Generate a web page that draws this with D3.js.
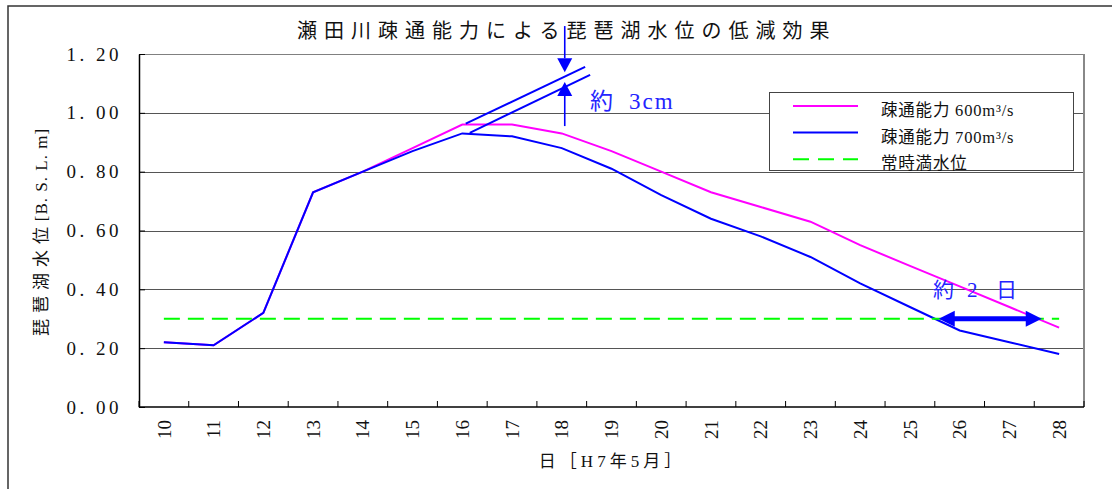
<!DOCTYPE html>
<html>
<head>
<meta charset="utf-8">
<script src="https://cdn.jsdelivr.net/npm/d3@7"></script>
<style>
  html, body { margin: 0; padding: 0; background: #fff; }
  svg { display: block; }
  text { font-family: "Liberation Serif", "Times New Roman", "DejaVu Serif", "Noto Sans CJK JP", serif; }
  text.cjk { font-family: "Noto Sans CJK JP", sans-serif; }
</style>
</head>
<body>
<svg id="chart" width="1112" height="489"></svg>
<script>
// Days of May, H7 (1995)
const days = ["10","11","12","13","14","15","16","17","18","19","20","21","22","23","24","25","26","27","28"];
// Lake Biwa water level [B.S.L. m] for each outflow capacity
const level600 = [0.22,0.21,0.32,0.73,0.80,0.88,0.96,0.96,0.93,0.87,0.80,0.73,0.68,0.63,0.55,0.48,0.41,0.34,0.27];
const level700 = [0.22,0.21,0.32,0.73,0.80,0.87,0.93,0.92,0.88,0.81,0.72,0.64,0.58,0.51,0.42,0.34,0.26,0.22,0.18];
// Normal full water level
const fullLevel = days.map(() => 0.30);
const yTicks = [0, 0.2, 0.4, 0.6, 0.8, 1.0, 1.2];

const seriesNames = ["疎通能力 600m³/s", "疎通能力 700m³/s", "常時満水位"];

// Annotation geometry in data units [day, level]
const trend600 = [[16.07, 0.963], [18.47, 1.156]];
const trend700 = [[16.15, 0.932], [18.57, 1.129]];
const arrowDown = {day: 18.06, from: 1.295, to: 1.138};
const arrowUp = {day: 18.06, from: 0.955, to: 1.105};
const spanArrow = {from: 25.58, to: 27.65, level: 0.30};

const svg = d3.select("#chart");
const plot = {left: 139, right: 1084, top: 54, bottom: 407};

const x = d3.scaleBand().domain(days).range([plot.left, plot.right]).paddingInner(0).paddingOuter(0);
const bw = x.bandwidth();
const xDay = d3.scaleLinear().domain([10, 28]).range([x("10") + bw / 2, x("28") + bw / 2]);
const y = d3.scaleLinear().domain([0, 1.2]).range([plot.bottom, plot.top]);

// Outer frame
svg.append("rect").attr("x", 8).attr("y", 6).attr("width", 1200).attr("height", 600)
  .attr("fill", "none").attr("stroke", "#333").attr("stroke-width", 1.5);

// Title
svg.append("text").attr("class", "cjk").attr("x", 297).attr("y", 38)
  .attr("font-size", 20).attr("letter-spacing", 7).attr("fill", "#111")
  .text("瀬田川疎通能力による琵琶湖水位の低減効果");

// Gridlines
svg.append("g").selectAll("line").data(yTicks.slice(1)).join("line")
  .attr("x1", plot.left).attr("x2", plot.right)
  .attr("y1", d => Math.round(y(d)) + 0.5).attr("y2", d => Math.round(y(d)) + 0.5)
  .attr("stroke", d => d === 1.2 ? "#808080" : "#555").attr("stroke-width", 1.2);

// Right border of plot area
svg.append("line").attr("x1", plot.right).attr("x2", plot.right)
  .attr("y1", plot.top).attr("y2", plot.bottom).attr("stroke", "#888").attr("stroke-width", 2);

// Y axis
const yAxis = d3.axisLeft(y).tickValues(yTicks).tickSizeInner(-6).tickSizeOuter(0)
  .tickFormat(d => d3.format(".2f")(d).replace(".", ". "));
const gy = svg.append("g").attr("transform", `translate(${plot.left},0)`).call(yAxis);
gy.select(".domain").attr("stroke", "#000").attr("stroke-width", 1.5);
gy.selectAll(".tick line").attr("stroke", "#000");
gy.selectAll(".tick text").attr("x", -17).attr("font-size", 19).attr("letter-spacing", 3.5)
  .attr("fill", "#111");

// X axis: ticks between days, pointing into the plot
const gx = svg.append("g").attr("transform", `translate(0,${plot.bottom})`);
gx.append("line").attr("x1", plot.left).attr("x2", plot.right).attr("y1", 0).attr("y2", 0)
  .attr("stroke", "#000").attr("stroke-width", 1.5);
gx.selectAll("line.tk").data(days.concat(["end"])).join("line").attr("class", "tk")
  .attr("x1", d => d === "end" ? plot.right : x(d)).attr("x2", d => d === "end" ? plot.right : x(d))
  .attr("y1", 0).attr("y2", -6).attr("stroke", "#000").attr("stroke-width", 1);
gx.selectAll("text").data(days).join("text")
  .attr("transform", d => `translate(${x(d) + bw / 2},13) rotate(-90)`)
  .attr("text-anchor", "end").attr("dy", "0.35em")
  .attr("font-size", 19).attr("fill", "#111").text(d => d);

// Axis titles
svg.append("text").attr("x", 612).attr("y", 467).attr("text-anchor", "middle")
  .attr("font-size", 17).attr("letter-spacing", 4).attr("fill", "#111")
  .text("日［H7年5月］");
const yTitle = svg.append("text").attr("transform", "translate(47,232) rotate(-90)")
  .attr("text-anchor", "middle").attr("font-size", 17).attr("fill", "#111");
yTitle.append("tspan").attr("letter-spacing", 6).text("琵琶湖水位");
yTitle.append("tspan").attr("letter-spacing", 1).text("[B. S. L. m]");

// Series lines
const line = d3.line().x((d, i) => x(days[i]) + bw / 2).y(d => y(d));
svg.append("path").datum(level600).attr("d", line)
  .attr("fill", "none").attr("stroke", "#ff00ff").attr("stroke-width", 2);
svg.append("path").datum(level700).attr("d", line)
  .attr("fill", "none").attr("stroke", "#0000ff").attr("stroke-width", 2);
svg.append("path").datum(fullLevel).attr("d", line)
  .attr("fill", "none").attr("stroke", "#00ff00").attr("stroke-width", 2)
  .attr("stroke-dasharray", "16,8");

// Legend
const lg = svg.append("g");
lg.append("rect").attr("x", 769.5).attr("y", 92.5).attr("width", 304).attr("height", 78)
  .attr("fill", "#fff").attr("stroke", "#444").attr("stroke-width", 1);
const legendStyles = [
  {color: "#ff00ff", dash: null},
  {color: "#0000ff", dash: null},
  {color: "#00ff00", dash: "16,9"}
];
seriesNames.forEach((name, i) => {
  const cy = 106 + i * 26.6;
  lg.append("line").attr("x1", 793).attr("x2", 858).attr("y1", cy).attr("y2", cy)
    .attr("stroke", legendStyles[i].color).attr("stroke-width", 2)
    .attr("stroke-dasharray", legendStyles[i].dash);
  lg.append("text").attr("x", 881).attr("y", cy + 10).attr("font-size", 16.5)
    .attr("letter-spacing", 0.8).attr("fill", "#111").text(name);
});

// Annotations: extrapolated peaks and difference
const ann = svg.append("g").attr("stroke", "#0000ff").attr("fill", "#0000ff");
[trend600, trend700].forEach(seg => {
  ann.append("line")
    .attr("x1", xDay(seg[0][0])).attr("y1", y(seg[0][1]))
    .attr("x2", xDay(seg[1][0])).attr("y2", y(seg[1][1]))
    .attr("stroke-width", 2);
});

function vArrow(a) {
  const ax = xDay(a.day), y0 = y(a.from), y1 = y(a.to);
  const dir = Math.sign(y1 - y0), headLen = 14, half = 7.5;
  ann.append("line").attr("x1", ax).attr("x2", ax).attr("y1", y0).attr("y2", y1 - dir * headLen)
    .attr("stroke-width", 1.6);
  ann.append("path").attr("stroke", "none")
    .attr("d", `M${ax},${y1} L${ax - half},${y1 - dir * headLen} L${ax + half},${y1 - dir * headLen} Z`);
}
vArrow(arrowDown);
vArrow(arrowUp);

// Double-headed arrow along the full water level
(function () {
  const x0 = xDay(spanArrow.from), x1 = xDay(spanArrow.to), yy = y(spanArrow.level);
  const headLen = 16, half = 8;
  ann.append("line").attr("x1", x0 + headLen - 1).attr("x2", x1 - headLen + 1)
    .attr("y1", yy).attr("y2", yy).attr("stroke-width", 5);
  ann.append("path").attr("stroke", "none")
    .attr("d", `M${x0},${yy} L${x0 + headLen},${yy - half} L${x0 + headLen},${yy + half} Z`);
  ann.append("path").attr("stroke", "none")
    .attr("d", `M${x1},${yy} L${x1 - headLen},${yy - half} L${x1 - headLen},${yy + half} Z`);
})();

// Annotation labels
const lab3 = svg.append("text").attr("y", 109).attr("font-size", 23).attr("fill", "#2424ff");
lab3.append("tspan").attr("x", 590).text("約");
lab3.append("tspan").attr("x", 629).attr("letter-spacing", 2).text("3cm");
const lab2 = svg.append("text").attr("y", 297).attr("font-size", 21).attr("fill", "#2424ff");
lab2.append("tspan").attr("x", 933).text("約");
lab2.append("tspan").attr("x", 967).text("2");
lab2.append("tspan").attr("x", 996).text("日");
</script>
</body>
</html>
